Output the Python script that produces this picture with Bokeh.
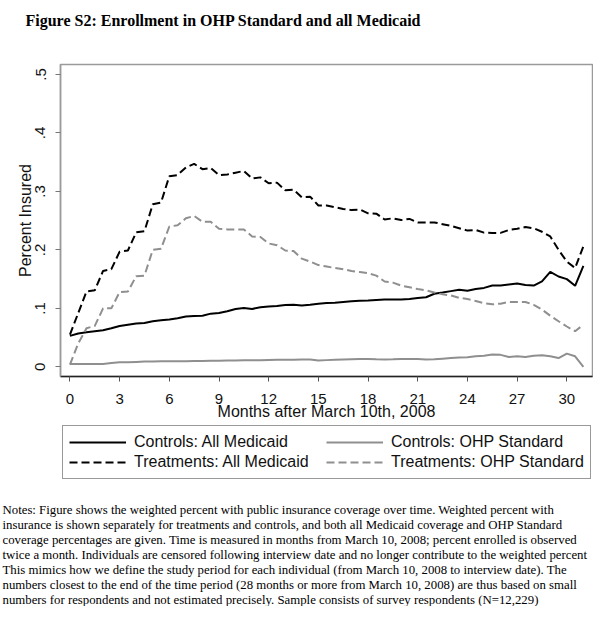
from bokeh.plotting import figure
from bokeh.models import Range1d, FixedTicker, Label, Legend, LegendItem
from bokeh.embed import file_html
from bokeh.resources import INLINE

# ---------------- data ----------------
months = [0, 0.5, 1, 1.5, 2, 2.5, 3, 3.5, 4, 4.5, 5, 5.5, 6, 6.5, 7, 7.5,
          8, 8.5, 9, 9.5, 10, 10.5, 11, 11.5, 12, 12.5, 13, 13.5, 14, 14.5,
          15, 15.5, 16, 16.5, 17, 17.5, 18, 18.5, 19, 19.5, 20, 20.5, 21, 21.5,
          22, 22.5, 23, 23.5, 24, 24.5, 25, 25.5, 26, 26.5, 27, 27.5, 28, 28.5,
          29, 29.5, 30, 30.5, 31]

controls_all = [0.053, 0.057, 0.059, 0.061, 0.0625, 0.066, 0.070, 0.072, 0.074, 0.075,
                0.078, 0.0795, 0.081, 0.083, 0.086, 0.087, 0.0875, 0.091, 0.092, 0.095,
                0.099, 0.1006, 0.099, 0.102, 0.1034, 0.104, 0.1057, 0.106, 0.105, 0.106,
                0.108, 0.109, 0.1097, 0.111, 0.112, 0.113, 0.1136, 0.1145, 0.115, 0.115,
                0.115, 0.116, 0.1176, 0.119, 0.125, 0.127, 0.1295, 0.132, 0.130, 0.133,
                0.135, 0.139, 0.139, 0.141, 0.1426, 0.140, 0.139, 0.146, 0.1625, 0.1545,
                0.150, 0.1386, 0.1727]

controls_ohp = [0.005, 0.005, 0.005, 0.005, 0.005, 0.0065, 0.008, 0.008, 0.0085, 0.009,
                0.009, 0.0095, 0.0097, 0.0097, 0.0097, 0.010, 0.010, 0.0105, 0.0105, 0.011,
                0.011, 0.0112, 0.0114, 0.0114, 0.0117, 0.012, 0.012, 0.0122, 0.0125, 0.0125,
                0.011, 0.0115, 0.012, 0.0125, 0.013, 0.0133, 0.0136, 0.013, 0.0125, 0.013,
                0.0136, 0.0136, 0.0136, 0.0125, 0.013, 0.014, 0.015, 0.016, 0.0165, 0.018,
                0.019, 0.021, 0.0205, 0.017, 0.018, 0.017, 0.019, 0.020, 0.018, 0.015,
                0.0227, 0.018, 0.000]

treat_all = [0.055, 0.092, 0.129, 0.131, 0.164, 0.167, 0.197, 0.199, 0.230, 0.232,
             0.278, 0.281, 0.326, 0.328, 0.341, 0.347, 0.338, 0.340, 0.328, 0.329,
             0.332, 0.335, 0.322, 0.324, 0.314, 0.315, 0.302, 0.303, 0.290, 0.291,
             0.276, 0.276, 0.273, 0.270, 0.268, 0.269, 0.2625, 0.262, 0.252, 0.254,
             0.251, 0.253, 0.247, 0.247, 0.247, 0.244, 0.241, 0.237, 0.233, 0.234,
             0.2295, 0.229, 0.229, 0.234, 0.236, 0.239, 0.237, 0.231, 0.223, 0.200,
             0.180, 0.169, 0.206]

treat_ohp = [0.004, 0.040, 0.066, 0.070, 0.100, 0.100, 0.128, 0.129, 0.155, 0.156,
             0.200, 0.202, 0.240, 0.242, 0.254, 0.258, 0.248, 0.248, 0.236, 0.235,
             0.235, 0.235, 0.223, 0.222, 0.211, 0.208, 0.199, 0.198, 0.185, 0.180,
             0.174, 0.1716, 0.169, 0.167, 0.164, 0.162, 0.160, 0.156, 0.146, 0.144,
             0.139, 0.136, 0.133, 0.131, 0.127, 0.124, 0.122, 0.118, 0.116, 0.1125,
             0.109, 0.107, 0.108, 0.111, 0.111, 0.111, 0.106, 0.098, 0.0875, 0.078,
             0.069, 0.061, 0.072]

x_ticks = [0, 3, 6, 9, 12, 15, 18, 21, 24, 27, 30]
y_ticks = [0, 0.1, 0.2, 0.3, 0.4, 0.5]
y_tick_labels = ["0", ".1", ".2", ".3", ".4", ".5"]

series_labels = ["Controls: All Medicaid", "Controls: OHP Standard",
                 "Treatments: All Medicaid", "Treatments: OHP Standard"]
series_values = [controls_all, controls_ohp, treat_all, treat_ohp]

title_text = "Figure S2:  Enrollment in OHP Standard and all Medicaid"
x_title = "Months after March 10th, 2008"
y_title = "Percent Insured"
notes_lines = [
    "Notes: Figure shows the weighted percent with public insurance coverage over time.  Weighted percent with",
    "insurance is shown separately for treatments and controls, and both all Medicaid coverage and OHP Standard",
    "coverage percentages are given.  Time is measured in months from March 10, 2008; percent enrolled is observed",
    "twice a month. Individuals are censored following interview date and no longer contribute to the weighted percent",
    "This mimics how we define the study period for each individual (from March 10, 2008 to interview date).  The",
    "numbers closest to the end of the time period (28 months or more from March 10, 2008) are thus based on small",
    "numbers for respondents and not estimated precisely. Sample consists of survey respondents (N=12,229)",
]

# ---------------- layout ----------------
W = 593
H_TITLE, H_MAIN, H_LEG, H_NOTES = 62, 360, 62, 122
FL, FR = 60, 592
X0, X1 = -0.57, 31.55
Y0, Y1 = -0.0165, 0.517

BLACK = "#000000"
GRAY = "#8f8f8f"
SANS = "Liberation Sans"
SERIF = "Liberation Serif"
styles = [(BLACK, "solid"), (GRAY, "solid"), (BLACK, "8 4"), (GRAY, "8 4")]


def blank(h, x_start=0):
    f = figure(width=W, height=h, title=None, output_backend="svg", toolbar_location=None,
               x_range=Range1d(x_start, x_start + W), y_range=Range1d(h, 0),
               x_axis_location=None, y_axis_location=None, min_border=0)
    f.outline_line_color = None
    f.xgrid.visible = False
    f.ygrid.visible = False
    f.background_fill_color = "white"
    f.border_fill_color = "white"
    return f


# ---- title panel ----
ft = blank(H_TITLE)
ft.add_layout(Label(x=25, y=20, text=title_text, text_font=SERIF,
                    text_font_size="16px", text_font_style="bold", text_color="black",
                    text_align="left", text_baseline="middle"))

# ---- main plot ----
p = figure(width=W, height=H_MAIN, title=None, output_backend="svg", toolbar_location=None,
           x_range=Range1d(X0, X1), y_range=Range1d(Y0, Y1),
           min_border_left=FL, min_border_right=W - FR,
           min_border_top=2, min_border_bottom=45)
p.background_fill_color = "white"
p.border_fill_color = "white"
p.outline_line_color = "#9a9a9a"
p.outline_line_width = 1.5
p.xgrid.visible = False
p.ygrid.visible = False

for vals, (col, dash) in zip(series_values, styles):
    p.line(months, vals, line_color=col, line_width=2, line_dash=dash)

xa = p.xaxis[0]
xa.ticker = FixedTicker(ticks=x_ticks)
xa.minor_tick_line_color = None
xa.axis_line_color = "#222222"
xa.axis_line_width = 1.5
xa.major_tick_line_color = "#555555"
xa.major_tick_in = 0
xa.major_tick_out = 5
xa.major_label_text_font = SANS
xa.major_label_text_font_size = "15px"
xa.major_label_text_color = "#111111"
xa.major_label_standoff = 12
xa.axis_label = x_title
xa.axis_label_text_font = SANS
xa.axis_label_text_font_size = "16px"
xa.axis_label_text_font_style = "normal"
xa.axis_label_text_color = "#111111"
xa.axis_label_standoff = -4

ya = p.yaxis[0]
ya.ticker = FixedTicker(ticks=y_ticks)
ya.major_label_overrides = {t: s for t, s in zip(y_ticks, y_tick_labels)}
ya.minor_tick_line_color = None
ya.axis_line_color = "#9a9a9a"
ya.axis_line_width = 1.5
ya.major_tick_line_color = "#777777"
ya.major_tick_in = 0
ya.major_tick_out = 5
ya.major_label_orientation = "vertical"
ya.major_label_text_font = SANS
ya.major_label_text_font_size = "15px"
ya.major_label_text_color = "#111111"
ya.major_label_standoff = 10
ya.axis_label = y_title
ya.axis_label_text_font = SANS
ya.axis_label_text_font_size = "16px"
ya.axis_label_text_font_style = "normal"
ya.axis_label_text_color = "#111111"
ya.axis_label_standoff = -1

# ---- legend panel (series drawn outside this panel's visible range; only the key shows) ----
fl = blank(H_LEG, x_start=1000)
items = []
for lab, vals, (col, dash) in zip(series_labels, series_values, styles):
    r = fl.line(months, vals, line_color=col, line_width=2, line_dash=dash)
    items.append(LegendItem(label=lab, renderers=[r]))
legend = Legend(items=items, orientation="horizontal", ncols=2,
                location=(62, 5),
                glyph_width=57, glyph_height=18, label_standoff=8,
                label_width=192, label_height=20, spacing=0, padding=6, margin=0,
                label_text_font=SANS, label_text_font_size="16px",
                label_text_color="#111111",
                border_line_color="#333333", border_line_width=1,
                background_fill_color="white", background_fill_alpha=1.0)
fl.add_layout(legend, "center")

# ---- notes panel ----
fn = blank(H_NOTES)
for i, line in enumerate(notes_lines):
    fn.add_layout(Label(x=2, y=25 + 15.0 * i, text=line, text_font=SERIF,
                        text_font_size="12.8px", text_color="black",
                        text_align="left", text_baseline="middle"))

open("out.html", "w").write(file_html([ft, p, fl, fn], INLINE))
